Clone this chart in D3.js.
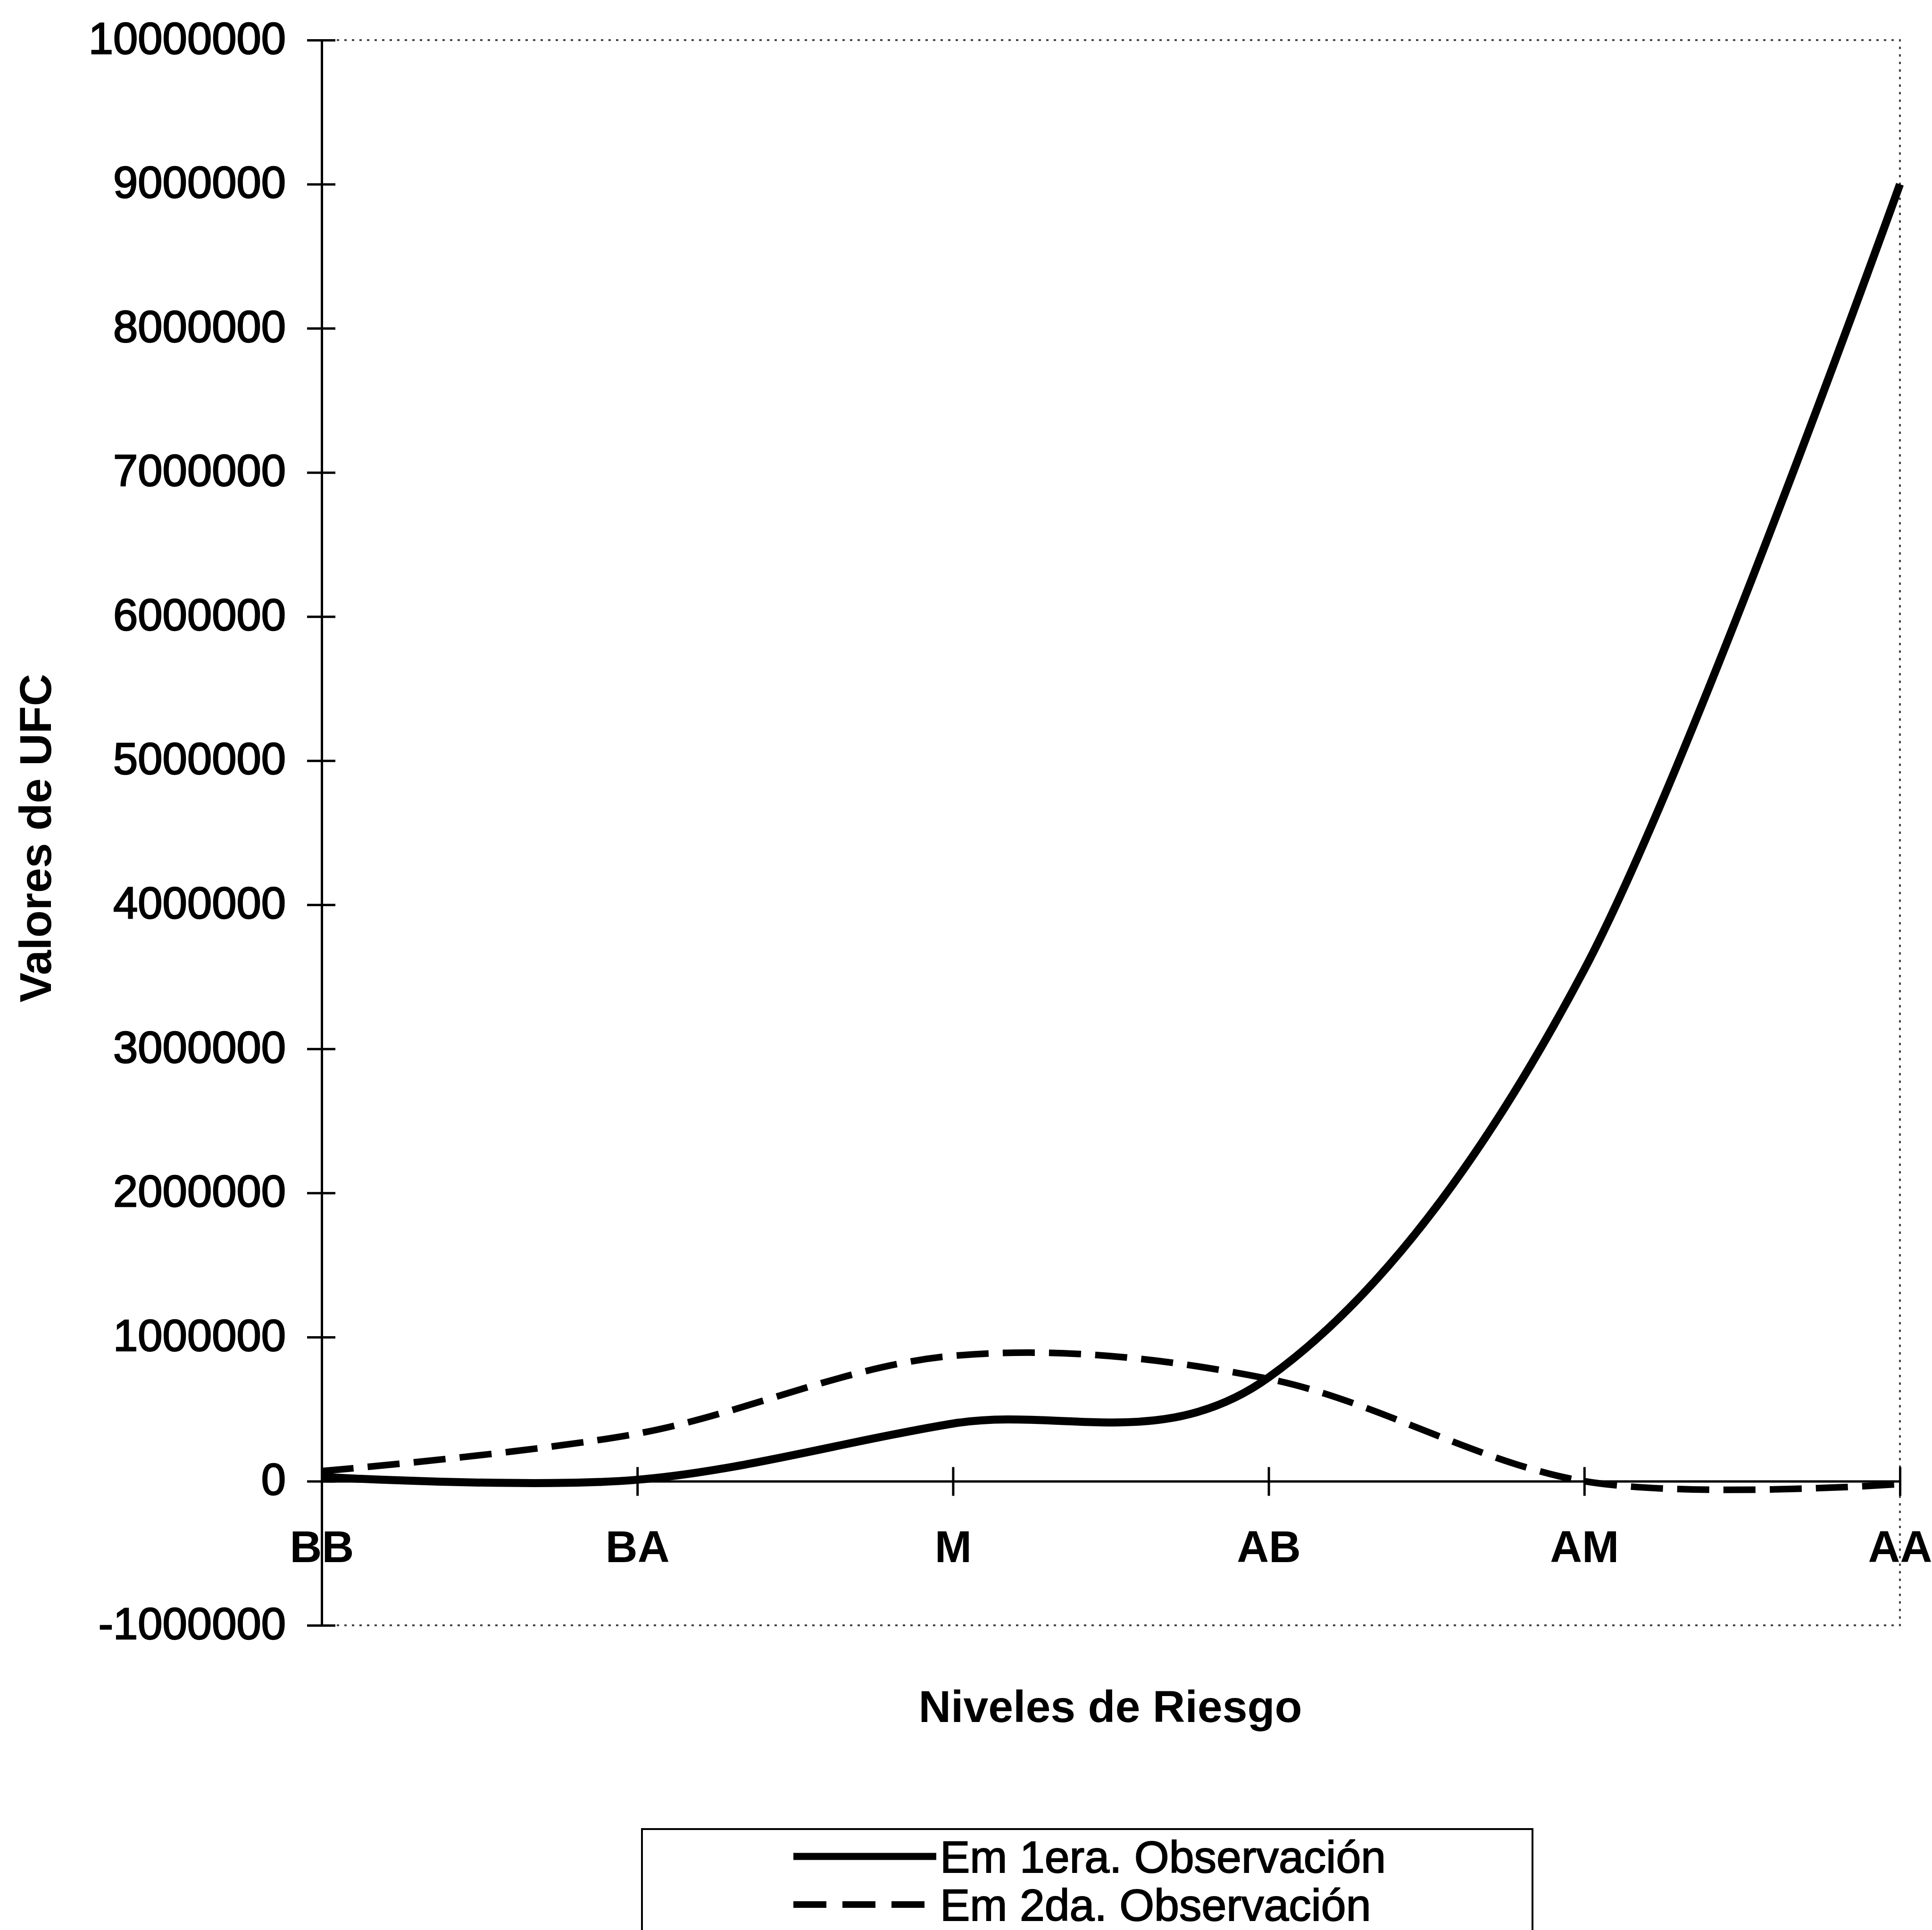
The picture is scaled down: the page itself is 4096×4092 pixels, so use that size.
<!DOCTYPE html>
<html>
<head>
<meta charset="utf-8">
<script src="https://cdn.jsdelivr.net/npm/d3@7"></script>
<style>
  body { margin: 0; background: #fff; }
  text { font-family: "Liberation Sans", Arial, sans-serif; fill: #000; }
</style>
</head>
<body>
<div id="chart"></div>
<script>
// Data
const categories = ["BB", "BA", "M", "AB", "AM", "AA"];
const primera = [30000, 10000, 400000, 720000, 3550000, 9000000];
const segunda = [70000, 330000, 870000, 710000, 0, -20000];
const yTicks = [10000000, 9000000, 8000000, 7000000, 6000000, 5000000,
  4000000, 3000000, 2000000, 1000000, 0, -1000000];
const seriesNames = ["Em 1era. Observación", "Em 2da. Observación"];

// Chart dimensions
const width = 4096;
const height = 4092;
const margin = { top: 85, right: 68, bottom: 646, left: 682 };
const plotW = width - margin.left - margin.right;
const plotH = height - margin.top - margin.bottom;

const svg = d3
  .select("#chart")
  .append("svg")
  .attr("width", width)
  .attr("height", height);

const g = svg
  .append("g")
  .attr("transform", `translate(${margin.left},${margin.top})`);

// Scales
const x = d3.scalePoint().domain(categories).range([0, plotW]).padding(0);
const y = d3.scaleLinear().domain([-1000000, 10000000]).range([plotH, 0]);

// Dotted plot border (top, right, bottom)
g.append("rect")
  .attr("x", 0)
  .attr("y", 0)
  .attr("width", plotW)
  .attr("height", plotH)
  .attr("fill", "none")
  .attr("stroke", "#444")
  .attr("stroke-width", 4)
  .attr("stroke-dasharray", "5,11");

// Y axis
const yAxis = g
  .append("g")
  .call(
    d3.axisLeft(y)
      .tickValues(yTicks)
      .tickSizeInner(31)
      .tickSizeOuter(0)
      .tickPadding(45)
      .tickFormat((d) => String(d))
  );
yAxis.select(".domain").attr("stroke", "#000").attr("stroke-width", 5);
yAxis.selectAll(".tick line").attr("x1", 29).attr("stroke-width", 5);
yAxis
  .selectAll(".tick text")
  .attr("dy", "0.3em")
  .style("font-size", "94px")
  .attr("stroke", "#000")
  .attr("stroke-width", 2.5);

// X axis on the zero line
const y0 = y(0);
const xAxis = g
  .append("g")
  .attr("transform", `translate(0,${y0})`)
  .call(d3.axisBottom(x).tickSizeInner(31).tickSizeOuter(0));
xAxis.select(".domain").attr("stroke", "#000").attr("stroke-width", 5);
xAxis.selectAll(".tick line").attr("y1", -30).attr("stroke-width", 5);
xAxis
  .selectAll(".tick text")
  .attr("y", 3312 - margin.top - y0)
  .attr("dy", 0)
  .style("font-size", "94px")
  .style("font-weight", "bold");

// Lines (smoothed)
const line = d3
  .line()
  .x((d, i) => x(categories[i]))
  .y((d) => y(d))
  .curve(d3.curveCardinal.tension(0));

g.append("path")
  .datum(segunda)
  .attr("d", line)
  .attr("fill", "none")
  .attr("stroke", "#000")
  .attr("stroke-width", 14)
  .attr("stroke-dasharray", "68,30");

g.append("path")
  .datum(primera)
  .attr("d", line)
  .attr("fill", "none")
  .attr("stroke", "#000")
  .attr("stroke-width", 17);

// Axis titles
svg
  .append("text")
  .attr("x", margin.left + plotW / 2 - 1)
  .attr("y", 3651)
  .attr("text-anchor", "middle")
  .style("font-size", "95px")
  .style("font-weight", "bold")
  .text("Niveles de Riesgo");

svg
  .append("text")
  .attr("transform", `translate(108,1777) rotate(-90)`)
  .attr("text-anchor", "middle")
  .style("font-size", "95px")
  .style("font-weight", "bold")
  .text("Valores de UFC");

// Legend
const legend = svg.append("g");
legend
  .append("rect")
  .attr("x", 1361)
  .attr("y", 3878)
  .attr("width", 1888)
  .attr("height", 400)
  .attr("fill", "#fff")
  .attr("stroke", "#000")
  .attr("stroke-width", 4);

const legendRows = [
  { name: seriesNames[0], y: 3936, dash: null, w: 15 },
  { name: seriesNames[1], y: 4038, dash: "70,34", w: 14 },
];

legendRows.forEach(function (row) {
  legend
    .append("line")
    .attr("x1", 1682)
    .attr("x2", row.dash ? 1960 : 1985)
    .attr("y1", row.y)
    .attr("y2", row.y)
    .attr("stroke", "#000")
    .attr("stroke-width", row.w)
    .attr("stroke-dasharray", row.dash);
  legend
    .append("text")
    .attr("x", 1993)
    .attr("y", row.y + 34)
    .style("font-size", "95px")
    .attr("stroke", "#000")
    .attr("stroke-width", 2)
    .text(row.name);
});
</script>
</body>
</html>
